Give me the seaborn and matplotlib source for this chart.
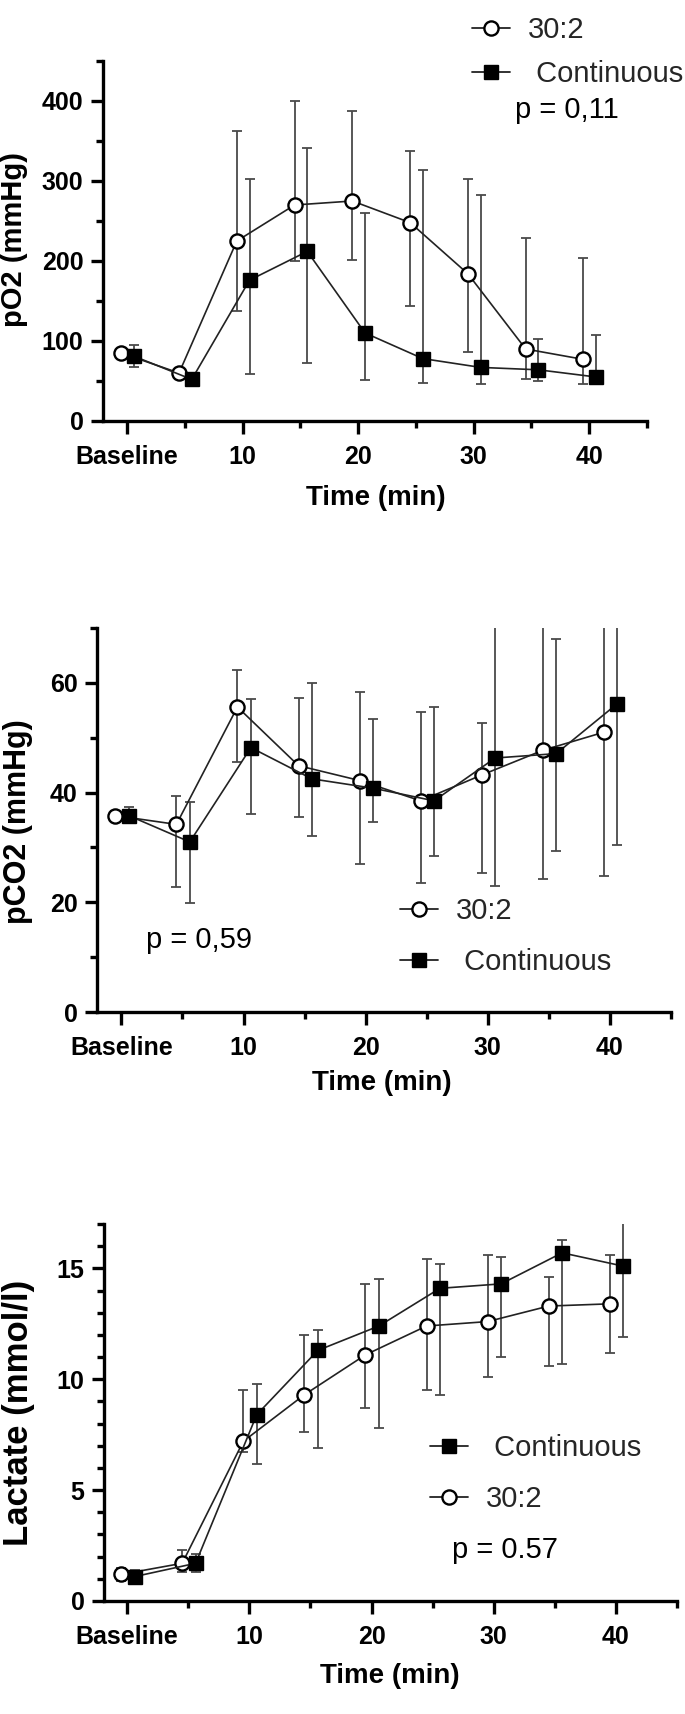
import numpy as np
import pandas as pd
import matplotlib
matplotlib.use("Agg")
import matplotlib.pyplot as plt
import seaborn as sns
from matplotlib.lines import Line2D
from matplotlib.ticker import FixedLocator, MultipleLocator

# DATA (medians with asymmetric whiskers)
times = [0, 5, 10, 15, 20, 25, 30, 35, 40]
x_tick_pos = [0, 10, 20, 30, 40]
x_tick_labels = ["Baseline", "10", "20", "30", "40"]
x_minor_pos = [5, 15, 25, 35, 45]

po2_302 = [85, 60, 225, 270, 275, 248, 184, 90, 77]
po2_302_lo = [80, 55, 137, 200, 201, 144, 86, 52, 46]
po2_302_hi = [90, 65, 362, 400, 387, 338, 302, 229, 204]
po2_cont = [81, 52, 176, 212, 110, 78, 67, 64, 55]
po2_cont_lo = [67, 47, 59, 72, 51, 48, 46, 50, 46]
po2_cont_hi = [95, 57, 303, 341, 260, 314, 282, 102, 107]

pco2_302 = [35.8, 34.2, 55.6, 44.9, 42.2, 38.5, 43.2, 47.7, 51.0]
pco2_302_lo = [35.0, 22.7, 45.5, 35.5, 27.0, 23.6, 25.4, 24.2, 24.8]
pco2_302_hi = [36.6, 39.3, 62.4, 57.3, 58.4, 54.7, 52.7, 78.0, 80.0]
pco2_cont = [35.8, 31.0, 48.2, 42.5, 40.8, 38.5, 46.3, 47.1, 56.2]
pco2_cont_lo = [34.6, 19.9, 36.1, 32.0, 34.6, 28.5, 23.0, 29.4, 30.4]
pco2_cont_hi = [37.4, 38.2, 57.0, 59.9, 53.4, 55.6, 76.0, 68.0, 82.0]

lac_302 = [1.2, 1.7, 7.2, 9.3, 11.1, 12.4, 12.6, 13.3, 13.4]
lac_302_lo = [0.9, 1.3, 6.7, 7.6, 8.7, 9.5, 10.1, 10.6, 11.2]
lac_302_hi = [1.5, 2.3, 9.5, 12.0, 14.3, 15.4, 15.6, 14.6, 15.6]
lac_cont = [1.1, 1.7, 8.4, 11.3, 12.4, 14.1, 14.3, 15.7, 15.1]
lac_cont_lo = [0.9, 1.3, 6.2, 6.9, 7.8, 9.3, 11.0, 10.7, 11.9]
lac_cont_hi = [1.4, 2.1, 9.8, 12.2, 14.5, 15.2, 15.5, 16.3, 17.1]

# STYLE
sns.set_theme(style="ticks")
plt.rcParams["font.family"] = ["Liberation Sans", "DejaVu Sans"]

W, H = 685, 1714
fig = plt.figure(figsize=(W / 100, H / 100), dpi=100)

SERIES = {
    "30:2": dict(marker="o", ms=10.2, mfc="white", mec="black", mew=1.7, offset=-0.5),
    "Continuous": dict(marker="s", ms=10.0, mfc="black", mec="black", mew=1.0, offset=0.6),
}


def px_axes(x0, y0, x1, y1):
    return fig.add_axes([x0 / W, 1 - y1 / H, (x1 - x0) / W, (y1 - y0) / H])


def draw_series(ax, name, mean, lo, hi):
    st = SERIES[name]
    x = np.array(times, dtype=float) + st["offset"]
    mean = np.array(mean, dtype=float)
    ax.errorbar(
        x, mean,
        yerr=[mean - np.array(lo), np.array(hi) - mean],
        fmt="none", ecolor="#4a4a4a", elinewidth=1.3,
        capsize=3.3, capthick=1.3, zorder=2,
    )
    df = pd.DataFrame({"t": x, "v": mean})
    sns.lineplot(
        data=df, x="t", y="v", ax=ax, estimator=None, errorbar=None, sort=False,
        color="#222222", linewidth=1.2, marker=st["marker"], markersize=st["ms"],
        markerfacecolor=st["mfc"], markeredgecolor=st["mec"],
        markeredgewidth=st["mew"], zorder=3,
    )


def style_axes(ax, xleft, ymax, ymajor, yminor, ylabel, ylabel_fs, ylab_xy, xlab_xy):
    ax.set_xlim(xleft, 45)
    ax.set_ylim(0, ymax)
    ax.xaxis.set_major_locator(FixedLocator(x_tick_pos))
    ax.set_xticklabels(x_tick_labels)
    ax.xaxis.set_minor_locator(FixedLocator(x_minor_pos))
    ax.yaxis.set_major_locator(MultipleLocator(ymajor))
    ax.yaxis.set_minor_locator(MultipleLocator(yminor))
    sns.despine(ax=ax)
    for s in ["left", "bottom"]:
        ax.spines[s].set_linewidth(2.4)
        ax.spines[s].set_color("black")
    ax.tick_params(which="major", length=9, width=2.4, color="black",
                   labelsize=18, labelcolor="black")
    ax.tick_params(which="minor", length=5, width=2.4, color="black")
    ax.tick_params(axis="x", which="major", pad=8)
    ax.tick_params(axis="y", which="major", pad=5)
    plt.setp(ax.get_xticklabels() + ax.get_yticklabels(), fontweight="bold")
    ax.set_xlabel("Time (min)", fontsize=20, fontweight="bold", color="black")
    ax.set_ylabel(ylabel, fontsize=ylabel_fs, fontweight="bold", color="black")
    ax.yaxis.set_label_coords(*ylab_xy)
    ax.xaxis.set_label_coords(*xlab_xy)


def add_legend(ax, names, x_px, y_px, spacing):
    handles = []
    labels = []
    for n in names:
        st = SERIES[n]
        handles.append(Line2D([], [], color="#222222", lw=1.3, marker=st["marker"],
                              markersize=st["ms"], markerfacecolor=st["mfc"],
                              markeredgecolor=st["mec"], markeredgewidth=st["mew"]))
        labels.append(n if n == "30:2" else " " + n)
    ax.legend(handles, labels, loc="upper left",
              bbox_to_anchor=(x_px / W, 1 - y_px / H), bbox_transform=fig.transFigure,
              frameon=False, borderpad=0, borderaxespad=0, handlelength=1.3,
              handletextpad=0.62, labelspacing=spacing, fontsize=21)


def p_text(txt, x_px, y_px):
    fig.text(x_px / W, 1 - y_px / H, txt, ha="left", va="center", fontsize=21, color="black")


# PANEL 1: pO2
ax1 = px_axes(103, 61, 647, 421)
draw_series(ax1, "30:2", po2_302, po2_302_lo, po2_302_hi)
draw_series(ax1, "Continuous", po2_cont, po2_cont_lo, po2_cont_hi)
style_axes(ax1, -2.08, 450, 100, 50, "pO2 (mmHg)", 21, (-0.138, 0.503), (0.502, -0.178))
add_legend(ax1, ["30:2", "Continuous"], 472, 16, 0.55)
p_text("p = 0,11", 515, 110)

# PANEL 2: pCO2
ax2 = px_axes(97, 628, 671, 1012)
draw_series(ax2, "30:2", pco2_302, pco2_302_lo, pco2_302_hi)
draw_series(ax2, "Continuous", pco2_cont, pco2_cont_lo, pco2_cont_hi)
style_axes(ax2, -2.0, 70, 20, 10, "pCO2 (mmHg)", 22, (-0.111, 0.495), (0.497, -0.151))
add_legend(ax2, ["30:2", "Continuous"], 400, 897, 0.8)
p_text("p = 0,59", 146, 940)

# PANEL 3: Lactate
ax3 = px_axes(104, 1224, 677, 1601)
draw_series(ax3, "30:2", lac_302, lac_302_lo, lac_302_hi)
draw_series(ax3, "Continuous", lac_cont, lac_cont_lo, lac_cont_hi)
style_axes(ax3, -1.9, 17, 5, 1, "Lactate (mmol/l)", 25, (-0.120, 0.499), (0.499, -0.164))
add_legend(ax3, ["Continuous", "30:2"], 430, 1434, 0.78)
p_text("p = 0.57", 452, 1550)

fig.savefig("out.png", dpi=100)
